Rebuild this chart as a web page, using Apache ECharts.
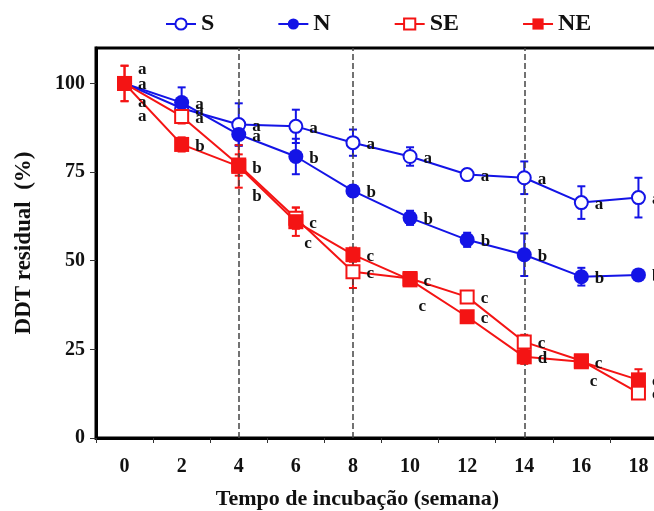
<!DOCTYPE html>
<html>
<head>
<meta charset="utf-8">
<script src="https://cdn.jsdelivr.net/npm/echarts@6/dist/echarts.min.js"></script>
<style>
  html, body { margin: 0; padding: 0; background: #fff; }
  #chart { width: 654px; height: 511px; }
</style>
</head>
<body>
<div id="chart"></div>
<script>
// semanas de incubação
var weeks = ['0', '2', '4', '6', '8', '10', '12', '14', '16', '18'];

// DDT residual (%) por tratamento
var sVals  = [100, 93.0, 88.4, 87.9, 83.3, 79.4, 74.3, 73.4, 66.4, 67.8];
var nVals  = [100, 94.6, 85.6, 79.4, 69.7, 62.1, 55.9, 51.7, 45.5, 46.0];
var seVals = [100, 90.7, 77.0, 62.0, 46.9, 45.0, 39.8, 27.1, 21.8, 12.7];
var neVals = [100, 82.8, 76.6, 61.0, 51.7, 44.6, 34.2, 22.9, 21.5, 16.4];

// desvio (barras de erro)
var sErr  = [1.5, 2.0, 6.0, 4.7, 3.7, 2.6, 1.5, 4.6, 4.6, 5.6];
var nErr  = [1.5, 4.3, 3.0, 5.0, 1.5, 2.0, 2.0, 6.0, 2.5, 1.0];
var seErr = [5.0, 2.0, 3.0, 3.0, 4.6, 1.5, 1.5, 2.0, 1.5, 1.5];
var neErr = [5.0, 2.0, 6.0, 4.0, 2.0, 1.5, 1.5, 2.0, 1.5, 3.0];

// letras de significância
var sLetters  = ['a', 'a', 'a', 'a', 'a', 'a', 'a', 'a', 'a', 'a'];
var nLetters  = ['a', 'a', 'a', 'b', 'b', 'b', 'b', 'b', 'b', 'b'];
var seLetters = ['a', 'a', 'b', 'c', 'c', 'c', 'c', 'c', 'c', 'c'];
var neLetters = ['a', 'b', 'b', 'c', 'c', 'c', 'c', 'd', 'c', 'c'];

// linhas tracejadas verticais
var markWeeks = ['4', '8', '14'];

var BLUE = '#1414e6';
var RED = '#f41414';
var FONT = 'Liberation Serif';

// deslocamento das letras (px) onde ficam fora do padrão
var labelShift = {
    S: {0: [0, -14]},
    N: {0: [0, 1]},
    SE: {0: [0, 19], 2: [0, 32], 3: [-5, 25], 5: [-5, 28], 8: [-5, 21]},
    NE: {0: [0, 33]}
};

var chart = echarts.init(document.getElementById('chart'));

function pointData(name, vals, letters) {
    return vals.map(function (v, i) {
        var sh = (labelShift[name] && labelShift[name][i]) || [0, 2];
        return {
            value: v,
            label: {
                show: true,
                position: 'right',
                distance: 6,
                offset: sh,
                formatter: letters[i],
                color: '#111',
                fontFamily: FONT,
                fontWeight: 'bold',
                fontSize: 17
            }
        };
    });
}

function lineSeries(name, vals, letters, color, symbol, open) {
    return {
        name: name,
        type: 'line',
        data: pointData(name, vals, letters),
        symbol: symbol,
        symbolSize: open ? 13 : 15,
        showAllSymbol: true,
        lineStyle: {color: color, width: 2},
        itemStyle: {
            color: open ? '#fff' : color,
            borderColor: color,
            borderWidth: open ? 2 : 0
        },
        emphasis: {disabled: true},
        z: 5,
        animation: false
    };
}

//误差线
function errorSeries(name, vals, errs, color) {
    return {
        name: name + '_err',
        type: 'custom',
        data: vals.map(function (v, i) { return [i, v - errs[i], v + errs[i]]; }),
        renderItem: function (params, api) {
            var lo = api.coord([api.value(0), api.value(1)]);
            var hi = api.coord([api.value(0), api.value(2)]);
            var w = 4;
            var st = {stroke: color, lineWidth: 2};
            return {
                type: 'group',
                children: [
                    {type: 'line', shape: {x1: lo[0], y1: lo[1], x2: hi[0], y2: hi[1]}, style: st},
                    {type: 'line', shape: {x1: lo[0] - w, y1: lo[1], x2: lo[0] + w, y2: lo[1]}, style: st},
                    {type: 'line', shape: {x1: hi[0] - w, y1: hi[1], x2: hi[0] + w, y2: hi[1]}, style: st}
                ]
            };
        },
        z: 4,
        silent: true,
        animation: false
    };
}

var option = {
    backgroundColor: '#fff',
    animation: false,
    legend: {
        data: ['S', 'N', 'SE', 'NE'],
        top: 7,
        left: 160,
        itemGap: 63,
        itemWidth: 30,
        itemHeight: 14,
        textStyle: {fontFamily: FONT, fontWeight: 'bold', fontSize: 24, color: '#111'}
    },
    grid: {
        left: 96,
        width: 571,
        top: 48,
        bottom: 73,
        outerBoundsMode: 'none',
        containLabel: false,
        show: true,
        borderColor: '#000',
        borderWidth: 3
    },
    xAxis: {
        type: 'category',
        data: weeks,
        boundaryGap: true,
        name: 'Tempo de incubação (semana)',
        nameLocation: 'middle',
        nameGap: 50,
        nameTextStyle: {fontFamily: FONT, fontWeight: 'bold', fontSize: 22, color: '#111', padding: [0, 48, 0, 0]},
        axisLine: {lineStyle: {color: '#000', width: 3}},
        axisTick: {show: true, length: 5, lineStyle: {color: '#333', width: 1}},
        axisLabel: {fontFamily: FONT, fontWeight: 'bold', fontSize: 20, color: '#111', margin: 19},
        splitLine: {show: false}
    },
    yAxis: {
        type: 'value',
        min: 0,
        max: 110,
        interval: 25,
        name: 'DDT residual  (%)',
        nameLocation: 'middle',
        nameRotate: 90,
        nameGap: 60,
        nameTextStyle: {fontFamily: FONT, fontWeight: 'bold', fontSize: 23, color: '#111'},
        axisLine: {show: true, lineStyle: {color: '#000', width: 3}},
        axisTick: {show: true, length: 6, lineStyle: {color: '#333', width: 1}},
        axisLabel: {fontFamily: FONT, fontWeight: 'bold', fontSize: 20, color: '#111', margin: 11, showMaxLabel: false},
        splitLine: {show: false}
    },
    series: [
        errorSeries('S', sVals, sErr, BLUE),
        errorSeries('N', nVals, nErr, BLUE),
        errorSeries('SE', seVals, seErr, RED),
        errorSeries('NE', neVals, neErr, RED),
        lineSeries('S', sVals, sLetters, BLUE, 'circle', true),
        lineSeries('N', nVals, nLetters, BLUE, 'circle', false),
        lineSeries('SE', seVals, seLetters, RED, 'rect', true),
        lineSeries('NE', neVals, neLetters, RED, 'rect', false)
    ]
};

// linhas verticais tracejadas
option.series[4].markLine = {
    silent: true,
    symbol: 'none',
    label: {show: false},
    lineStyle: {type: 'dashed', color: '#444', width: 1.5},
    data: markWeeks.map(function (w) { return {xAxis: w}; })
};

chart.setOption(option);
</script>
</body>
</html>
